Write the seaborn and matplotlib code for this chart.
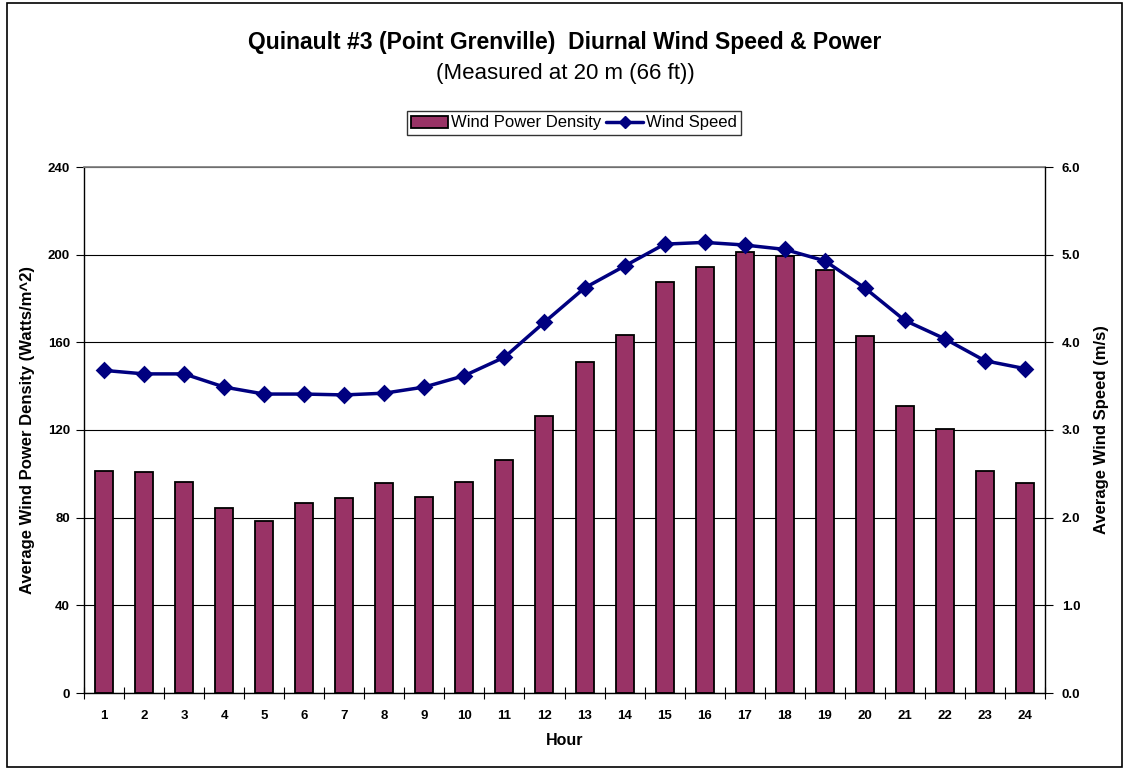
import numpy as np
import pandas as pd
import matplotlib
matplotlib.use("Agg")
import matplotlib.pyplot as plt
from matplotlib.patches import Rectangle
from matplotlib.ticker import FixedLocator
import seaborn as sns

# --- data ---
hours = [str(h) for h in range(1, 25)]
power_density = [101.1, 100.8, 96.2, 84.4, 78.7, 86.7, 89.2, 95.9, 89.6, 96.2, 106.1, 126.6,
                 151.2, 163.4, 187.6, 194.6, 201.1, 199.6, 193.0, 163.1, 131.1, 120.4, 101.1, 95.9]
wind_speed = [3.68, 3.64, 3.64, 3.49, 3.41, 3.41, 3.40, 3.42, 3.49, 3.62, 3.83, 4.23,
              4.62, 4.87, 5.12, 5.14, 5.11, 5.06, 4.93, 4.62, 4.25, 4.04, 3.79, 3.70]
left_ticks = [0, 40, 80, 120, 160, 200, 240]
right_ticks = [0.0, 1.0, 2.0, 3.0, 4.0, 5.0, 6.0]

df = pd.DataFrame({"Hour": hours, "Power": power_density, "Speed": wind_speed})

sns.set_theme(style="white")
plt.rcParams["font.family"] = ["Liberation Sans", "DejaVu Sans"]
plt.rcParams.update({"text.color": "black", "axes.labelcolor": "black",
                     "xtick.color": "black", "ytick.color": "black"})

bar_color = "#993366"
line_color = "#000080"

fig = plt.figure(figsize=(11.28, 7.69), dpi=100)
ax = fig.add_axes([84 / 1128, 76 / 769, (1045 - 84) / 1128, (693 - 167) / 769])

# --- bars: wind power density ---
sns.barplot(data=df, x="Hour", y="Power", color=bar_color, saturation=1, width=0.45,
            edgecolor="black", linewidth=1.3, ax=ax, zorder=3)
ax.set_ylim(0, 240)
ax.set_yticks(left_ticks)
ax.set_yticklabels([str(t) for t in left_ticks], fontsize=9.5, fontweight="bold")
ax.yaxis.grid(True, color="black", linewidth=0.8)
ax.set_axisbelow(True)
ax.set_xlim(-0.5, len(hours) - 0.5)
ax.set_xticks(range(len(hours)))
ax.set_xticklabels(hours, fontsize=9.5, fontweight="bold")
ax.xaxis.set_minor_locator(FixedLocator(np.arange(-0.5, len(hours), 1)))
ax.tick_params(axis="x", which="major", length=0, pad=12)
ax.tick_params(axis="x", which="minor", length=8, width=0.8, direction="inout", bottom=True)
ax.tick_params(axis="y", length=6, width=0.8, left=True, pad=4)
ax.set_xlabel("Hour", fontsize=11.5, fontweight="bold", labelpad=8)
ax.set_ylabel("Average Wind Power Density (Watts/m^2)", fontsize=12, fontweight="bold", labelpad=9)
for side in ["left", "bottom"]:
    ax.spines[side].set_color("black")
    ax.spines[side].set_linewidth(1.0)
ax.spines["top"].set_color("#808080")
ax.spines["right"].set_visible(False)

# --- line: wind speed on the right axis ---
ax2 = ax.twinx()
sns.pointplot(data=df, x="Hour", y="Speed", color=line_color, markers="D",
              markersize=7.5, linewidth=2.5, ax=ax2)
ax2.set_ylim(0, 6)
ax2.set_xlim(-0.5, len(hours) - 0.5)
ax2.set_yticks(right_ticks)
ax2.set_yticklabels([f"{t:.1f}" for t in right_ticks], fontsize=9.5, fontweight="bold")
ax2.tick_params(axis="y", length=6, width=0.8, right=True, pad=6)
ax2.set_ylabel("Average Wind Speed (m/s)", fontsize=12, fontweight="bold", labelpad=10)
ax2.set_xlabel("")
for side in ["left", "top", "bottom"]:
    ax2.spines[side].set_visible(False)
ax2.spines["right"].set_color("black")
ax2.spines["right"].set_linewidth(1.0)

# --- legend ---
handles = [
    Rectangle((0, 0), 1, 1, facecolor=bar_color, edgecolor="black", linewidth=1.3),
    plt.Line2D([], [], color=line_color, marker="D", markersize=6, linewidth=2.5),
]
fig.legend(handles, ["Wind Power Density", "Wind Speed"], loc="center",
           bbox_to_anchor=(574 / 1128, 1 - 123 / 769), ncol=2, frameon=True,
           fancybox=False, edgecolor="black", fontsize=12, handlelength=2.2,
           handletextpad=0.2, columnspacing=0.3, borderpad=0.25)

# --- titles ---
fig.text(565 / 1128, 1 - 43 / 769, "Quinault #3 (Point Grenville)  Diurnal Wind Speed & Power",
         ha="center", va="center", fontsize=16.5, fontweight="bold")
fig.text(565 / 1128, 1 - 73 / 769, "(Measured at 20 m (66 ft))",
         ha="center", va="center", fontsize=16)

# outer chart border
fig.patches.append(Rectangle((7 / 1128, 2 / 769), 1115 / 1128, 764 / 769,
                             transform=fig.transFigure, fill=False,
                             edgecolor="black", linewidth=1.2))

fig.savefig("out.png", dpi=100)
